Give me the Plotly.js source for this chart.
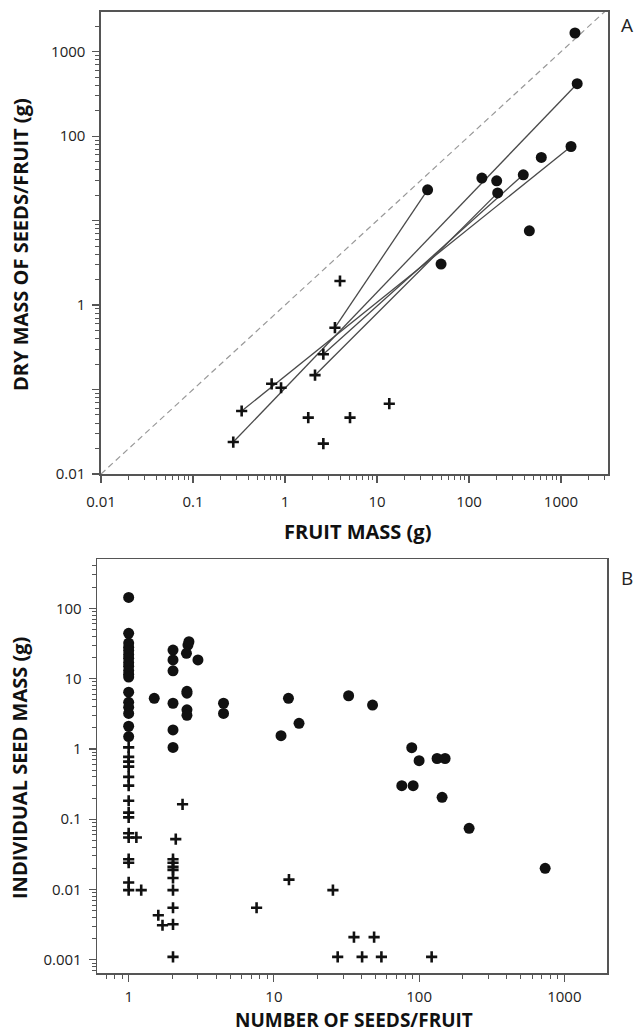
<!DOCTYPE html>
<html>
<head>
<meta charset="utf-8">
<script src="https://cdn.plot.ly/plotly-3.0.1.min.js"></script>
<style>html,body{margin:0;padding:0;background:#fff;}#chart{width:637px;height:1035px;}</style>
</head>
<body>
<div id="chart"></div>
<script>
// ---------- Panel A data: fruit mass vs dry mass of seeds per fruit ----------
const wildFruitA = [3.96, 3.49, 2.61, 2.12, 0.716, 0.906, 0.338, 0.274, 1.79, 5.09, 2.61, 13.6];
const wildSeedA  = [1.93, 0.54, 0.262, 0.148, 0.117, 0.105, 0.0557, 0.0239, 0.0465, 0.0465, 0.0229, 0.068];
const domFruitA  = [1419, 1500, 1285, 611, 389, 138, 200, 205, 35.5, 453, 49.7];
const domSeedA   = [1667, 418, 75.5, 56, 34.9, 31.9, 29.6, 21.3, 23.2, 7.57, 3.06];
// pairs: index into wild arrays -> index into domesticated arrays
const pairWild = [7, 6, 3, 2, 1];
const pairDom  = [1, 2, 7, 4, 8];

// ---------- Panel B data: number of seeds per fruit vs individual seed mass ----------
const domSeedsB = [1,1,1,1,1,1,1,1,1,1,1,1,1,1,1,1,1,1,
  1.5, 2.02,2.02,2.02,2.02,2.02,2.02,
  2.56,2.6,2.5,2.52,2.52,2.52,2.52, 3.0, 4.5,4.5,
  12.6,14.9,11.2, 32.7,47.8, 89,100,76,91,133,151,144,221,738];
const domMassB  = [143,44,32,28,25,22,19.5,17,15,13,11.5,10.5,6.4,4.6,3.9,3.2,2.1,1.5,
  5.25, 25.5,18.4,12.9,4.46,1.86,1.05,
  30,33.5,22.9,6.6,6.2,3.6,3.0, 18.4, 4.46,3.2,
  5.25,2.31,1.54, 5.7,4.2, 1.04,0.68,0.30,0.30,0.73,0.73,0.205,0.0743,0.020];
const wildSeedsB = [1,1,1,1,1,1,1,1,1,1,1,1,1,1,1,
  1.13,1.22,1.6,1.71,
  2.11,2.02,2.02,2.02,2.02,2.02,2.02,2.02,2.02,2.02, 2.35,
  7.6,12.7,25.5,35.6,49,27.5,40.5,55,122];
const wildMassB  = [1.05,0.77,0.66,0.56,0.40,0.30,0.183,0.124,0.106,0.063,0.055,0.027,0.024,0.0126,0.0098,
  0.055,0.0098,0.0043,0.0031,
  0.052,0.027,0.024,0.021,0.019,0.0146,0.0098,0.0055,0.0032,0.0011, 0.163,
  0.0055,0.0138,0.0098,0.0021,0.0021,0.0011,0.0011,0.0011,0.0011];

// ---------- tick labels ----------
const xTickValsA = [0.01, 0.1, 1, 10, 100, 1000];
const xTickTextA = ['0.01', '0.1', '1', '10', '100', '1000'];
const yTickValsA = [0.01, 0.1, 1, 10, 100, 1000];
const yTickTextA = ['0.01', '', '1', '', '100', '1000'];
const xTickValsB = [1, 10, 100, 1000];
const xTickTextB = ['1', '10', '100', '1000'];
const yTickValsB = [0.001, 0.01, 0.1, 1, 10, 100];
const yTickTextB = ['0.001', '0.01', '0.1', '1', '10', '100'];

const W = 637, H = 1035;
const rangeAx = [-2, 3.511], rangeAy = [-2, 3.474];
const rangeBx = [-0.216, 3.296], rangeBy = [-3.192, 2.697];

function minorVals(lo, hi) {
  const v = [];
  for (let e = Math.floor(lo); e <= Math.ceil(hi); e++) {
    for (let m = 2; m <= 9; m++) v.push(m * Math.pow(10, e));
  }
  return v;
}

const black = '#111';
const axisCol = '#555';
const tickFont = {family: 'Open Sans, sans-serif', size: 15, color: '#222'};
const titleFont = {family: 'Open Sans, sans-serif', size: 20, color: '#111', weight: 'bold'};
const titleFontB = {family: 'Open Sans, sans-serif', size: 19, color: '#111', weight: 'bold'};

function axis(domain, range, tv, tt, anchor, isY, standoff) {
  return {
    type: 'log', domain: domain, range: range, anchor: anchor,
    showline: true, mirror: true, linecolor: axisCol, linewidth: 1.6,
    showgrid: false, zeroline: false,
    tickmode: 'array', tickvals: tv, ticktext: tt,
    ticks: 'outside', ticklen: 7, tickwidth: 1.2, tickcolor: axisCol,
    tickfont: tickFont, ticklabelstandoff: standoff,
    minor: {tickmode: 'array', tickvals: minorVals(range[0], range[1]), ticks: 'outside',
            ticklen: 4, tickwidth: 1, tickcolor: axisCol, showgrid: false},
    fixedrange: true
  };
}

const traces = [];
// 1:1 dashed reference line across the axis range
const diagLo = Math.pow(10, rangeAx[0]);
const diagHi = Math.pow(10, Math.min(rangeAx[1], rangeAy[1]));
traces.push({x: [diagLo, diagHi], y: [diagLo, diagHi], xaxis: 'x', yaxis: 'y',
  mode: 'lines', line: {color: '#999', width: 1.2, dash: '6px,4px'}, hoverinfo: 'skip'});
// connecting lines wild -> domesticated
for (let k = 0; k < pairWild.length; k++) {
  const w = pairWild[k], d = pairDom[k];
  traces.push({x: [wildFruitA[w], domFruitA[d]], y: [wildSeedA[w], domSeedA[d]],
    xaxis: 'x', yaxis: 'y', mode: 'lines', line: {color: '#4a4a4a', width: 1.3}, hoverinfo: 'skip'});
}
const crossMarker = {symbol: 'cross-thin', size: 8, color: black, line: {color: black, width: 2.6}};
const dotMarker = {symbol: 'circle', size: 11, color: black, line: {width: 0}};
traces.push({x: wildFruitA, y: wildSeedA, xaxis: 'x', yaxis: 'y', mode: 'markers', marker: crossMarker, name: 'wild'});
traces.push({x: domFruitA, y: domSeedA, xaxis: 'x', yaxis: 'y', mode: 'markers', marker: dotMarker, name: 'domesticated'});
traces.push({x: wildSeedsB, y: wildMassB, xaxis: 'x2', yaxis: 'y2', mode: 'markers', marker: crossMarker, name: 'wild'});
traces.push({x: domSeedsB, y: domMassB, xaxis: 'x2', yaxis: 'y2', mode: 'markers', marker: dotMarker, name: 'domesticated'});

function ann(text, px, py, font, angle, xanchor, yanchor) {
  return {text: text, x: px / W, y: 1 - py / H, xref: 'paper', yref: 'paper',
    xanchor: xanchor || 'center', yanchor: yanchor || 'middle', showarrow: false, font: font,
    textangle: angle || 0, borderpad: 0};
}
const letterFont = {family: 'Open Sans, sans-serif', size: 19, color: '#222'};

const layout = {
  width: W, height: H,
  margin: {l: 0, r: 0, t: 0, b: 0},
  paper_bgcolor: '#fff', plot_bgcolor: '#fff',
  showlegend: false,
  xaxis: axis([101 / W, 608 / W], rangeAx, xTickValsA, xTickTextA, 'y', false, 6),
  yaxis: axis([1 - 474 / H, 1 - 11.7 / H], rangeAy, yTickValsA, yTickTextA, 'x', true, 4),
  xaxis2: axis([97.3 / W, 607.3 / W], rangeBx, xTickValsB, xTickTextB, 'y2', false, 2),
  yaxis2: axis([1 - 973.3 / H, 1 - 559.3 / H], rangeBy, yTickValsB, yTickTextB, 'x2', true, 4),
  annotations: [
    ann('FRUIT MASS (g)', 357, 531, titleFont),
    ann('DRY MASS OF SEEDS/FRUIT (g)', 21, 245, titleFont, -90),
    ann('NUMBER OF SEEDS/FRUIT', 354, 1034, titleFontB, 0, 'center', 'bottom'),
    ann('INDIVIDUAL SEED MASS (g)', 19, 768, titleFont, -90),
    ann('A', 620, 25, letterFont, 0, 'left'),
    ann('B', 620, 578, letterFont, 0, 'left')
  ]
};

Plotly.newPlot('chart', traces, layout, {displayModeBar: false, staticPlot: true});
</script>
</body>
</html>
